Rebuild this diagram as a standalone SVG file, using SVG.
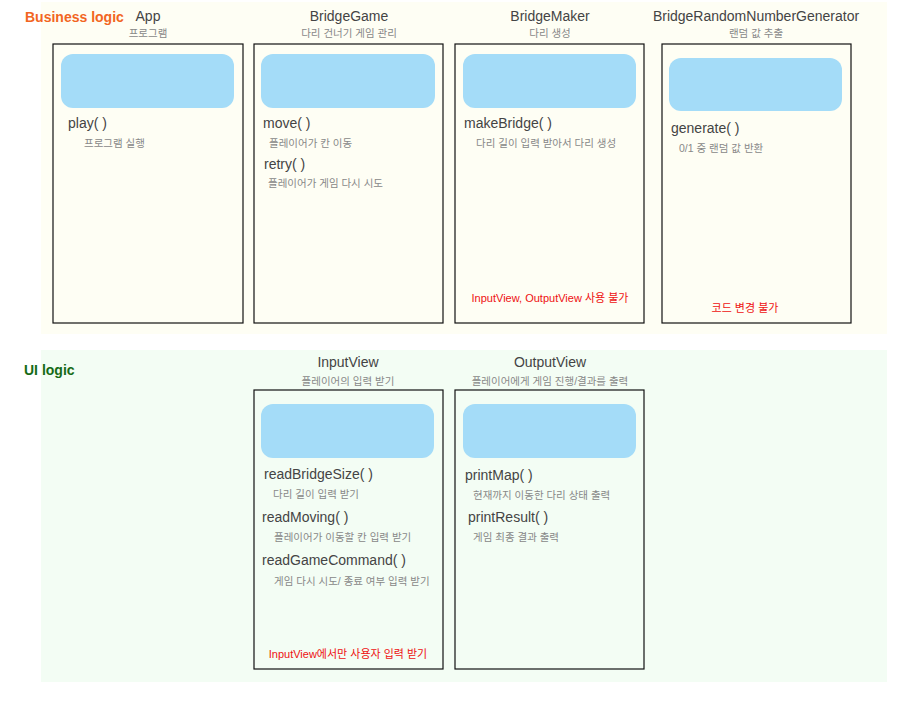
<svg xmlns="http://www.w3.org/2000/svg" width="898" height="701" viewBox="0 0 898 701">
<style>
text{font-family:"Liberation Sans","Noto Sans CJK KR",sans-serif}
.title{font-size:14px;fill:#444;text-anchor:middle}
.sub{font-size:10.5px;fill:#888;text-anchor:middle}
.box{fill:none;stroke:#111;stroke-width:1.2}
.pill{fill:#a4dcf8}
.m{font-size:14px;fill:#444}
.d{font-size:10.5px;fill:#888}
.warn{font-size:11px;fill:#ee1111;text-anchor:middle}
</style>
<rect width="898" height="701" fill="#ffffff"/>
<g id="business">
<rect x="41" y="2" width="846" height="332" fill="#fefef4"/>
<text x="25" y="22" font-size="14" font-weight="bold" fill="#f26522">Business logic</text>
</g>
<g id="ui">
<rect x="41" y="350" width="846" height="332" fill="#f3fdf4"/>
<text x="24" y="375" font-size="14" font-weight="bold" fill="#166b16">UI logic</text>
</g>
<g id="App">
<text class="title" x="148" y="21">App</text>
<text class="sub" x="148" y="37">프로그램</text>
<rect class="box" x="53" y="44" width="190" height="279"/>
<rect class="pill" x="61" y="54" width="173" height="54" rx="12"/>
<text class="m" x="68" y="128">play( )</text>
<text class="d" x="84" y="147">프로그램 실행</text>
</g>
<g id="BridgeGame">
<text class="title" x="349" y="21">BridgeGame</text>
<text class="sub" x="349" y="37">다리 건너기 게임 관리</text>
<rect class="box" x="254" y="44" width="189" height="279"/>
<rect class="pill" x="261" y="54" width="174" height="54" rx="12"/>
<text class="m" x="263" y="128">move( )</text>
<text class="d" x="269" y="147">플레이어가 칸 이동</text>
<text class="m" x="264" y="169">retry( )</text>
<text class="d" x="268" y="187">플레이어가 게임 다시 시도</text>
</g>
<g id="BridgeMaker">
<text class="title" x="550" y="21">BridgeMaker</text>
<text class="sub" x="550" y="37">다리 생성</text>
<rect class="box" x="455" y="44" width="189" height="279"/>
<rect class="pill" x="463" y="54" width="173" height="54" rx="12"/>
<text class="m" x="464" y="128">makeBridge( )</text>
<text class="d" x="476" y="147">다리 길이 입력 받아서 다리 생성</text>
<text class="warn" x="550" y="302">InputView, OutputView 사용 불가</text>
</g>
<g id="BridgeRandomNumberGenerator">
<text class="title" x="756" y="21">BridgeRandomNumberGenerator</text>
<text class="sub" x="756" y="37">랜덤 값 추출</text>
<rect class="box" x="662" y="44" width="189" height="279"/>
<rect class="pill" x="669" y="58" width="173" height="53" rx="12"/>
<text class="m" x="671" y="133">generate( )</text>
<text class="d" x="679" y="152">0/1 중 랜덤 값 반환</text>
<text class="warn" x="745" y="312">코드 변경 불가</text>
</g>
<g id="InputView">
<text class="title" x="348" y="367">InputView</text>
<text class="sub" x="348" y="385">플레이어의 입력 받기</text>
<rect class="box" x="254" y="390" width="189" height="279"/>
<rect class="pill" x="261" y="404" width="173" height="54" rx="12"/>
<text class="m" x="264" y="479">readBridgeSize( )</text>
<text class="d" x="273" y="498">다리 길이 입력 받기</text>
<text class="m" x="262" y="522">readMoving( )</text>
<text class="d" x="274" y="541">플레이어가 이동할 칸 입력 받기</text>
<text class="m" x="262" y="565">readGameCommand( )</text>
<text class="d" x="274" y="585">게임 다시 시도/ 종료 여부 입력 받기</text>
<text class="warn" x="348" y="658">InputView에서만 사용자 입력 받기</text>
</g>
<g id="OutputView">
<text class="title" x="550" y="367">OutputView</text>
<text class="sub" x="550" y="385">플레이어에게 게임 진행/결과를 출력</text>
<rect class="box" x="455" y="390" width="189" height="279"/>
<rect class="pill" x="463" y="404" width="173" height="54" rx="12"/>
<text class="m" x="465" y="480">printMap( )</text>
<text class="d" x="473" y="499">현재까지 이동한 다리 상태 출력</text>
<text class="m" x="468" y="522">printResult( )</text>
<text class="d" x="473" y="541">게임 최종 결과 출력</text>
</g>
</svg>
